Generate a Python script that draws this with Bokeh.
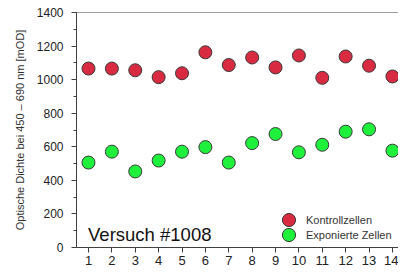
from bokeh.plotting import figure
from bokeh.models import Legend, LegendItem, Label, Span, FixedTicker
from bokeh.embed import file_html
from bokeh.resources import INLINE

versuche = list(range(1, 15))
kontroll = [1066, 1066, 1056, 1015, 1038, 1163, 1087, 1132, 1073, 1144, 1011, 1138, 1083, 1019]
exponiert = [506, 571, 453, 518, 571, 598, 506, 622, 676, 567, 612, 690, 704, 577]
y_ticks = [0, 200, 400, 600, 800, 1000, 1200, 1400]
labels = ["Kontrollzellen", "Exponierte Zellen"]

FONT = "Liberation Sans"

p = figure(width=398, height=270, output_backend="svg", toolbar_location=None,
           x_range=(0.487, 14.26), y_range=(0, 1400),
           min_border_left=76, min_border_right=0, min_border_top=12, min_border_bottom=23)
p.outline_line_color = None
p.grid.grid_line_color = None
p.background_fill_color = "white"

r1 = p.scatter(versuche, kontroll, size=13, fill_color="#D82A40", line_color="#3a3a3a", line_width=1)
r2 = p.scatter(versuche, exponiert, size=13, fill_color="#1EF03C", line_color="#3a3a3a", line_width=1)

p.add_layout(Span(location=1400, dimension="width", line_color="#404040", line_width=1))

p.xaxis.ticker = FixedTicker(ticks=versuche)
p.yaxis.ticker = FixedTicker(ticks=y_ticks, minor_ticks=list(range(0, 1401, 100)))
for ax in (p.xaxis, p.yaxis):
    ax.axis_line_color = "#404040"
    ax.major_tick_line_color = "#404040"
    ax.minor_tick_line_color = "#404040"
    ax.major_tick_in = 0
    ax.major_tick_out = 5
    ax.minor_tick_in = 0
    ax.minor_tick_out = 3
    ax.major_label_text_font = FONT
    ax.major_label_text_color = "#222222"
p.xaxis.minor_tick_line_color = None
p.xaxis.major_label_text_font_size = "13px"
p.xaxis.major_label_standoff = 3
p.yaxis.major_label_text_font_size = "12px"
p.yaxis.major_label_standoff = 8
p.yaxis.axis_label = "Optische Dichte bei 450 \u2013 690 nm [mOD]"
p.yaxis.axis_label_text_font = FONT
p.yaxis.axis_label_text_font_size = "11px"
p.yaxis.axis_label_text_font_style = "normal"
p.yaxis.axis_label_text_color = "#333333"
p.yaxis.axis_label_standoff = 8

p.add_layout(Label(x=0.98, y=77, text="Versuch #1008", text_font=FONT,
                   text_font_size="18.5px", text_color="#111111",
                   text_baseline="alphabetic", text_align="left"))

common = dict(glyph_width=33, glyph_height=33, label_standoff=1, padding=0, margin=0,
              label_text_font=FONT, label_text_font_size="11px", label_text_color="#333333",
              background_fill_alpha=0, border_line_color=None)
leg1 = Legend(items=[LegendItem(label=labels[0], renderers=[r1])], location=(196, 11), **common)
leg2 = Legend(items=[LegendItem(label=labels[1], renderers=[r2])], location=(196, -4), **common)
p.add_layout(leg1)
p.add_layout(leg2)

open("out.html", "w").write(file_html(p, INLINE))
